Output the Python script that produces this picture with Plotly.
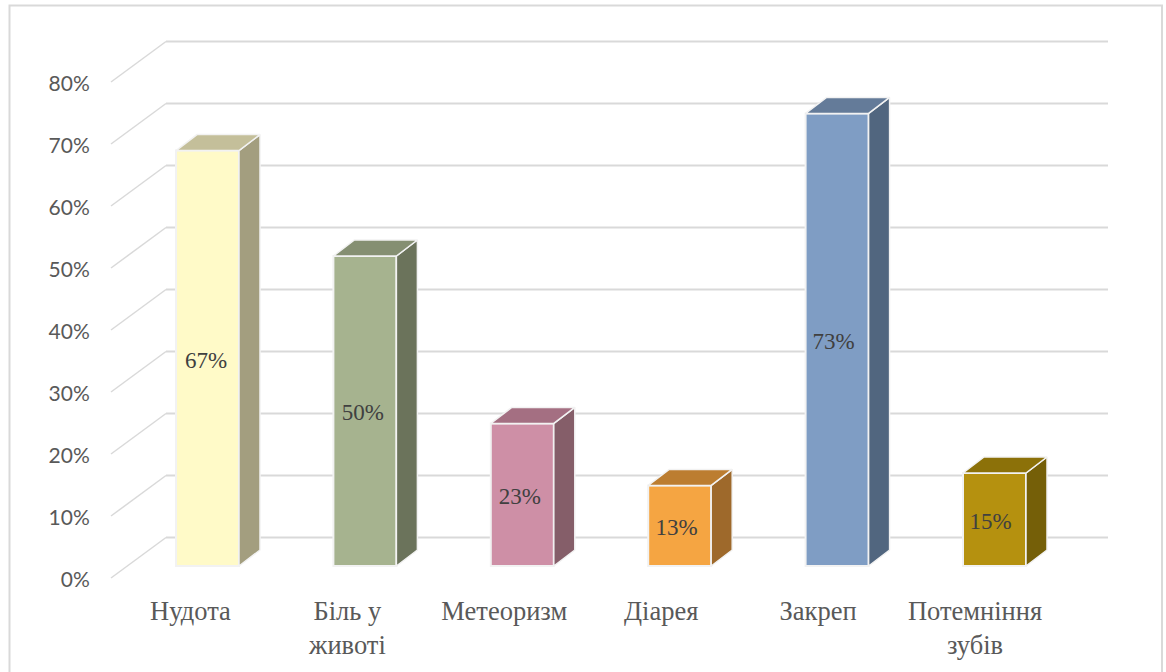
import plotly.graph_objects as go

categories = ["Нудота", "Біль у<br>животі", "Метеоризм", "Діарея", "Закреп", "Потемніння<br>зубів"]
values = [67, 50, 23, 13, 73, 15]
value_labels = ["67%", "50%", "23%", "13%", "73%", "15%"]
front_colors = ["#FFFAC8", "#A6B38F", "#CE8FA6", "#F5A542", "#7F9DC4", "#B5910F"]
side_colors = ["#A39E7F", "#6B735B", "#855E69", "#9E692B", "#51667F", "#755F08"]
top_colors = ["#C4BF9A", "#858F72", "#A46F82", "#BC7D30", "#647B99", "#8C7109"]
y_ticks = [0, 10, 20, 30, 40, 50, 60, 70, 80]
y_tick_labels = ["0%", "10%", "20%", "30%", "40%", "50%", "60%", "70%", "80%"]

W, H = 1166, 672
L, R, T, B = 100, 1122, 20, 592        # plot box in px
X0_PX, STEP = 207.5, 157.4             # first category centre, category spacing
Y0_PX, PX_PER = 578.0, 6.2             # 0% on the front plane, px per percent
LABEL_STEP = 156.9                     # spacing of the category and value labels


def xs(px):
    return (px - X0_PX) / STEP


def dy(px):
    return px / PX_PER


BAR_W = 63 / STEP
BAR_BASE = dy(12)
DEPTH_X, DEPTH_Y = 21 / STEP, dy(16)
WALL_X0, WALL_X1, WALL_X2 = xs(111), xs(166), xs(1108)
WALL_DY = dy(40.5)
EDGE = "#F2F2F2"
GRID = "#D9D9D9"

fig = go.Figure()

# gridlines on the back wall and side wall, under the bars
shapes = []
for t in y_ticks:
    shapes.append(dict(type="line", layer="below", xref="x", yref="y", x0=WALL_X0, y0=t, x1=WALL_X1,
                       y1=t + WALL_DY, line=dict(color=GRID, width=1.5)))
    shapes.append(dict(type="line", layer="below", xref="x", yref="y", x0=WALL_X1, y0=t + WALL_DY, x1=WALL_X2,
                       y1=t + WALL_DY, line=dict(color=GRID, width=2.2)))

# outer frame, open at the bottom of the page
fx0, fx1 = (9.5 - L) / (R - L), (1162 - L) / (R - L)
fy0, fy1 = (B - 672) / (B - T), (B - 5.5) / (B - T)
shapes.append(dict(type="path", xref="paper", yref="paper", layer="below",
                   path=f"M {fx0} {fy0} L {fx0} {fy1} L {fx1} {fy1} L {fx1} {fy0}",
                   line=dict(color=GRID, width=2)))

# front faces
fig.add_trace(go.Bar(x=list(range(len(values))), y=values, base=BAR_BASE, width=BAR_W,
                     marker=dict(color=front_colors, line=dict(color=EDGE, width=2)),
                     hoverinfo="skip", showlegend=False))

# side and top faces
for i, v in enumerate(values):
    x_l, x_r = i - BAR_W / 2, i + BAR_W / 2
    top = BAR_BASE + v
    fig.add_trace(go.Scatter(
        x=[x_r, x_r + DEPTH_X, x_r + DEPTH_X, x_r, x_r],
        y=[BAR_BASE, BAR_BASE + DEPTH_Y, top + DEPTH_Y, top, BAR_BASE],
        mode="lines", fill="toself", fillcolor=side_colors[i],
        line=dict(color=EDGE, width=1.5), hoverinfo="skip", showlegend=False))
    fig.add_trace(go.Scatter(
        x=[x_l, x_r, x_r + DEPTH_X, x_l + DEPTH_X, x_l],
        y=[top, top, top + DEPTH_Y, top + DEPTH_Y, top],
        mode="lines", fill="toself", fillcolor=top_colors[i],
        line=dict(color=EDGE, width=1.5), hoverinfo="skip", showlegend=False))

# value labels
fig.add_trace(go.Scatter(
    x=[xs(206 + LABEL_STEP * i) for i in range(len(values))],
    y=[BAR_BASE + v / 2 - dy(3.5) for v in values],
    text=value_labels, mode="text", textposition="middle center",
    textfont=dict(family="Liberation Serif", size=23, color="#404040"),
    hoverinfo="skip", showlegend=False))

fig.update_layout(
    width=W, height=H, margin=dict(l=L, r=W - R, t=T, b=H - B, autoexpand=False),
    paper_bgcolor="white", plot_bgcolor="white", shapes=shapes, showlegend=False,
    xaxis=dict(range=[xs(L), xs(R)], tickmode="array", automargin=False,
               tickvals=[xs(190.5 + LABEL_STEP * i) for i in range(len(categories))], ticktext=categories,
               showgrid=False, zeroline=False, showline=False, ticks="",
               tickangle=0,
               tickfont=dict(family="Liberation Serif", size=26.5, color="#595959")),
    yaxis=dict(range=[-(B - Y0_PX) / PX_PER, (Y0_PX - T) / PX_PER], tickmode="array", automargin=False,
               tickvals=[t - dy(1.5) for t in y_ticks], ticktext=y_tick_labels,
               showgrid=False, zeroline=False, showline=False,
               ticks="outside", ticklen=5, tickcolor="rgba(0,0,0,0)",
               tickfont=dict(family="Lato", size=21, color="#595959")),
)

fig.write_html("out.html", post_script="document.body.style.margin='0';",
               config={"displayModeBar": False})
